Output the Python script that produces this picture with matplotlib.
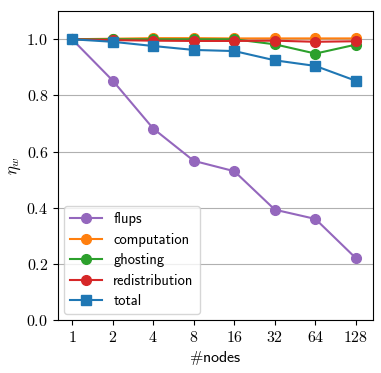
import os
import matplotlib
matplotlib.use("Agg")
from matplotlib import pyplot as plt
from matplotlib import font_manager as fm
from matplotlib.ticker import FuncFormatter
import numpy as np

# computer modern sans ships with matplotlib
cmss = os.path.join(matplotlib.get_data_path(), "fonts", "ttf", "cmss10.ttf")
fm.fontManager.addfont(cmss)
plt.rcParams["mathtext.fontset"] = "cm"
plt.rcParams["font.family"] = ["cmss10", "DejaVu Sans"]
plt.rcParams["axes.unicode_minus"] = False

nodes = ["1", "2", "4", "8", "16", "32", "64", "128"]
flups = [1.0, 0.853, 0.682, 0.567, 0.53, 0.393, 0.36, 0.22]
computation = [1.0, 1.002, 1.004, 1.004, 1.003, 1.003, 1.003, 1.003]
ghosting = [1.0, 1.0, 1.0, 1.0, 1.0, 0.982, 0.949, 0.981]
redistribution = [1.0, 0.997, 0.995, 0.994, 0.994, 0.995, 0.991, 0.993]
total = [1.0, 0.991, 0.976, 0.962, 0.958, 0.925, 0.905, 0.852]

x = np.arange(len(nodes))

fig = plt.figure(figsize=(3.81, 3.73), dpi=100)
ax = fig.add_axes([0.152, 0.142, 0.827, 0.828])

ax.plot(x, flups, "-o", color="tab:purple", ms=7, lw=1.5, label="flups")
ax.plot(x, computation, "-o", color="tab:orange", ms=7, lw=1.5, label="computation")
ax.plot(x, ghosting, "-o", color="tab:green", ms=7, lw=1.5, label="ghosting")
ax.plot(x, redistribution, "-o", color="tab:red", ms=7, lw=1.5, label="redistribution")
ax.plot(x, total, "-s", color="tab:blue", ms=7, lw=1.5, label="total")

ax.set_xlim(-0.35, 7.42)
ax.set_ylim(0, 1.1)
ax.set_xticks(x)
ax.set_xticklabels(["$%s$" % n for n in nodes], fontsize=11.5)
ax.set_yticks(np.arange(0, 1.01, 0.2))
ax.yaxis.set_major_formatter(FuncFormatter(lambda v, p: "$%.1f$" % v))
ax.tick_params(axis="y", labelsize=11.5)
ax.yaxis.grid(True, color="#b0b0b0", lw=0.8)
ax.set_axisbelow(True)

ax.set_xlabel(r"$\#$nodes", fontsize=11.5, labelpad=3)
ax.set_ylabel(r"$\eta_w$", fontsize=12, labelpad=2)

ax.legend(loc="lower left", fontsize=10.5, handlelength=2.2,
          labelspacing=0.45, borderaxespad=0.4)

fig.savefig("out.png", dpi=100)
